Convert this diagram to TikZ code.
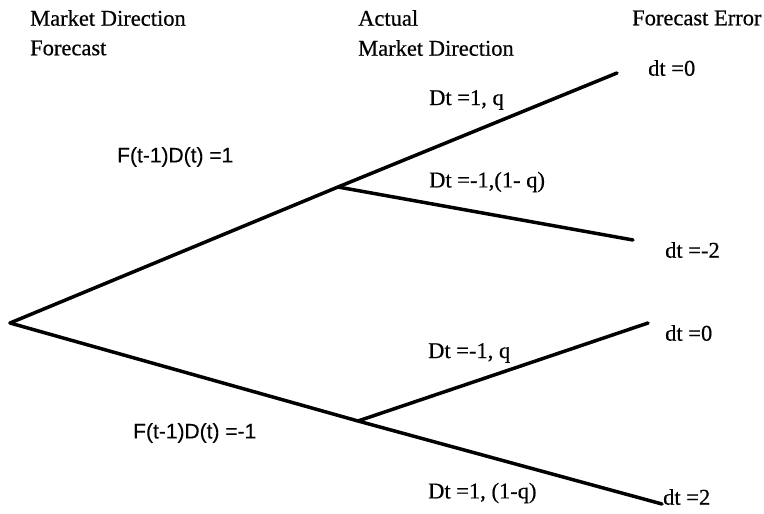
\documentclass[tikz,border=0pt]{standalone}
\usepackage{fontspec}
\setmainfont[FakeBold=0.5]{Liberation Serif}
\newfontfamily\labsans[FakeBold=0.3]{Liberation Sans}
\begin{document}
\begin{tikzpicture}[x=1pt,y=-1pt,
  branch/.style={line width=3.5pt,line cap=round,line join=round},
  txt/.style={anchor=west,inner sep=0pt,font=\fontsize{22.5}{26}\selectfont},
  stxt/.style={anchor=west,inner sep=0pt,font=\labsans\fontsize{21}{25}\selectfont}]
\useasboundingbox (0,0) rectangle (764,514);
% tree points
\coordinate (root) at (10,323);
\coordinate (up) at (338,187);
\coordinate (dn) at (358,421);
\coordinate (uu) at (617,73);
\coordinate (ud) at (633,240);
\coordinate (du) at (648,323);
\coordinate (dd) at (662,504);
\draw[branch] (root) -- (up) -- (uu);
\draw[branch] (up) -- (ud);
\draw[branch] (root) -- (dn) -- (dd);
\draw[branch] (dn) -- (du);
% headers
\node[txt] (h1) at (30,18) {Market Direction};
\node[txt] (h2) at (30,48) {Forecast};
\node[txt] (h3) at (358,18) {Actual};
\node[txt] (h4) at (358,48) {Market Direction};
\node[txt] (h5) at (632,18) {Forecast Error};
% branch labels
\node[stxt] (f1) at (117,157) {F(t-1)D(t) =1};
\node[stxt] (f2) at (133,433) {F(t-1)D(t) =-1};
\node[txt] (l1) at (429,100) {Dt =1, q};
\node[txt] (l2) at (429,182) {Dt =-1,(1- q)};
\node[txt] (l3) at (428,353) {Dt =-1, q};
\node[txt] (l4) at (428,493) {Dt =1, (1-q)};
% outcomes
\node[txt] (e1) at (648,68) {dt =0};
\node[txt] (e2) at (665,250) {dt =-2};
\node[txt] (e3) at (665,333) {dt =0};
\node[txt] (e4) at (663,497) {dt =2};
\end{tikzpicture}
\end{document}
